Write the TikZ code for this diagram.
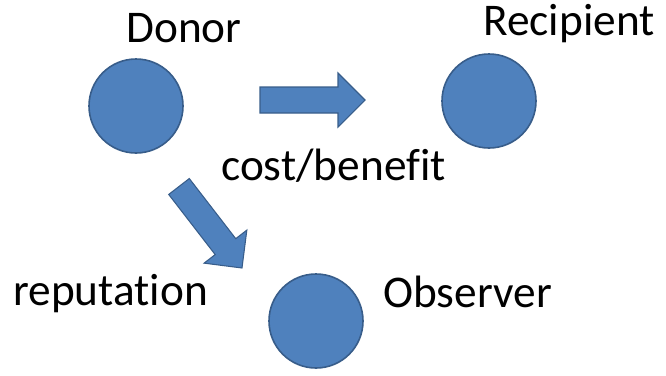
\documentclass[tikz,border=0pt]{standalone}
\usepackage{fontspec}
\setmainfont{Carlito}[Ligatures=NoCommon]
\usetikzlibrary{positioning}
\definecolor{ShapeBlue}{HTML}{4F81BD}
\definecolor{EdgeBlue}{HTML}{385D8A}
\tikzset{pics/bigarrow/.style={code={
  \filldraw[fill=ShapeBlue, draw=EdgeBlue, line width=0.8pt, line join=miter]
    (0,-13) -- (#1-27,-13) -- (#1-27,-27) -- (#1,0) -- (#1-27,27) -- (#1-27,13) -- (0,13) -- cycle;}}}

\begin{document}
\begin{tikzpicture}[x=0.75pt, y=-0.75pt, every node/.style={font=\fontsize{34}{40}\selectfont, inner sep=0pt},
  agent/.style={circle, fill=ShapeBlue, draw=EdgeBlue, line width=1.2pt, minimum size=70.5pt},
  tag/.style={anchor=base west}]
        \useasboundingbox (0,0) rectangle (666,375);
        % the three players
        \node (donor) [agent] at (136,106) {};
        \node (recipient) [agent] at (489,101) {};
        \node (observer) [agent] at (316,321) {};
        \node (donortext) [tag] at (126,42) {Donor};
        \node (recipienttext) [tag] at (483,35) {Recipient};
        \node (observertext) [tag] at (383,307) {Observer};
        % what flows between them
        \pic at (260,100) {bigarrow=105};
        \pic [rotate=-52.3] at (179,186.5) {bigarrow=103};
        \node (costtext) [tag] at (221,180) {cost/benefit};
        \node (reputext) [tag] at (13,305) {reputation};
      \end{tikzpicture}
\end{document}
